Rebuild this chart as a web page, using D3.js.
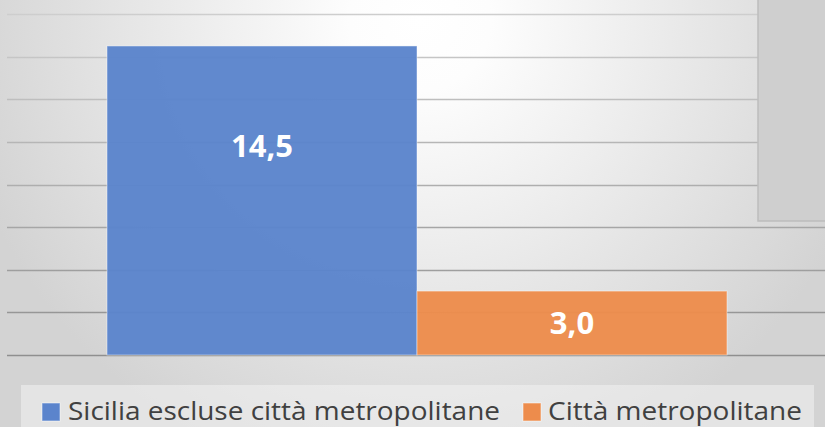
<!DOCTYPE html>
<html>
  <head>
    <meta charset="utf-8" />
    <title>Sicilia vs Città metropolitane</title>
    <style>
      body { margin: 0; }
      svg { display: block; }
    </style>
  </head>
  <body>
    <svg id="chart"></svg>
    <script src="https://cdn.jsdelivr.net/npm/d3@7"></script>
    <script>
      const series = ["Sicilia escluse città metropolitane", "Città metropolitane"];
      const values = [14.5, 3.0];
      const labels = ["14,5", "3,0"];
      const colors = ["#5b84cc", "#ed8c4c"];
      const yTicks = [0, 2, 4, 6, 8, 10, 12, 14, 16];

      const width = 825;
      const height = 427;

      const svg = d3.select("#chart").attr("width", width).attr("height", height);
      const defs = svg.append("defs");

      // background radial gradient
      const bg = defs.append("radialGradient").attr("id", "bg")
        .attr("gradientUnits", "userSpaceOnUse")
        .attr("cx", 420).attr("cy", 20).attr("r", 470);
      bg.append("stop").attr("offset", "0").attr("stop-color", "#ffffff");
      bg.append("stop").attr("offset", "0.15").attr("stop-color", "#fdfdfd");
      bg.append("stop").attr("offset", "1").attr("stop-color", "#d3d3d3");

      // gridlines darken toward bottom
      const gl = defs.append("linearGradient").attr("id", "grid")
        .attr("gradientUnits", "userSpaceOnUse")
        .attr("x1", 0).attr("y1", 0).attr("x2", 0).attr("y2", 360);
      gl.append("stop").attr("offset", "0").attr("stop-color", "#d0d0d0");
      gl.append("stop").attr("offset", "1").attr("stop-color", "#8e8e8e");

      svg.append("rect").attr("width", width).attr("height", height).attr("fill", "url(#bg)");

      const x = d3.scaleBand().domain(series).range([107, 727]).padding(0);
      const y = d3.scaleLinear().domain([0, 16]).range([355, 14]);

      // gridlines
      svg.append("g")
        .selectAll("line")
        .data(yTicks)
        .join("line")
        .attr("x1", 7)
        .attr("x2", width)
        .attr("y1", d => Math.round(y(d)) + 0.5)
        .attr("y2", d => Math.round(y(d)) + 0.5)
        .attr("stroke", "url(#grid)")
        .attr("stroke-width", 1.5);

      // bars
      svg.append("g")
        .selectAll("rect")
        .data(series)
        .join("rect")
        .attr("x", d => x(d))
        .attr("y", (d, i) => y(values[i]))
        .attr("width", x.bandwidth())
        .attr("height", (d, i) => y(0) - y(values[i]))
        .attr("fill", (d, i) => colors[i])
        .attr("fill-opacity", 0.96)
        .attr("stroke", "#ffffff")
        .attr("stroke-opacity", 0.45)
        .attr("stroke-width", 1);

      // data labels (the tall bar's label sits above its middle, as in the source)
      const labelY = i => i === 0
        ? y(values[i]) + 111
        : (y(values[i]) + y(0)) / 2 + 11;
      svg.append("g")
        .selectAll("text")
        .data(series)
        .join("text")
        .attr("x", d => x(d) + x.bandwidth() / 2)
        .attr("y", (d, i) => labelY(i))
        .attr("text-anchor", "middle")
        .attr("font-family", "'Open Sans', sans-serif")
        .attr("font-weight", "bold")
        .attr("font-size", 31)
        .attr("fill", "#ffffff")
        .text((d, i) => labels[i]);

      // grey panel at the right
      svg.append("rect")
        .attr("x", 758).attr("y", -1).attr("width", 70).attr("height", 222)
        .attr("fill", "#cfcfcf")
        .attr("stroke", "#bdbdbd")
        .attr("stroke-width", 1.5);

      // legend
      svg.append("rect")
        .attr("x", 21).attr("y", 385).attr("width", 793).attr("height", 45)
        .attr("fill", "#f2f2f2").attr("fill-opacity", 0.55);

      const legendItems = [
        { sx: 42, tx: 68, len: 432 },
        { sx: 523, tx: 548, len: 254 }
      ];
      const lg = svg.append("g")
        .selectAll("g")
        .data(series)
        .join("g");
      lg.append("rect")
        .attr("x", (d, i) => legendItems[i].sx)
        .attr("y", 403)
        .attr("width", 18)
        .attr("height", 18)
        .attr("fill", (d, i) => colors[i])
        .attr("stroke", "#ffffff")
        .attr("stroke-opacity", 0.5);
      lg.append("text")
        .attr("x", (d, i) => legendItems[i].tx)
        .attr("y", 420)
        .attr("font-family", "'Open Sans', sans-serif")
        .attr("font-size", 26)
        .attr("fill", "#404040")
        .attr("textLength", (d, i) => legendItems[i].len)
        .attr("lengthAdjust", "spacingAndGlyphs")
        .text(d => d);
    </script>
  </body>
</html>
